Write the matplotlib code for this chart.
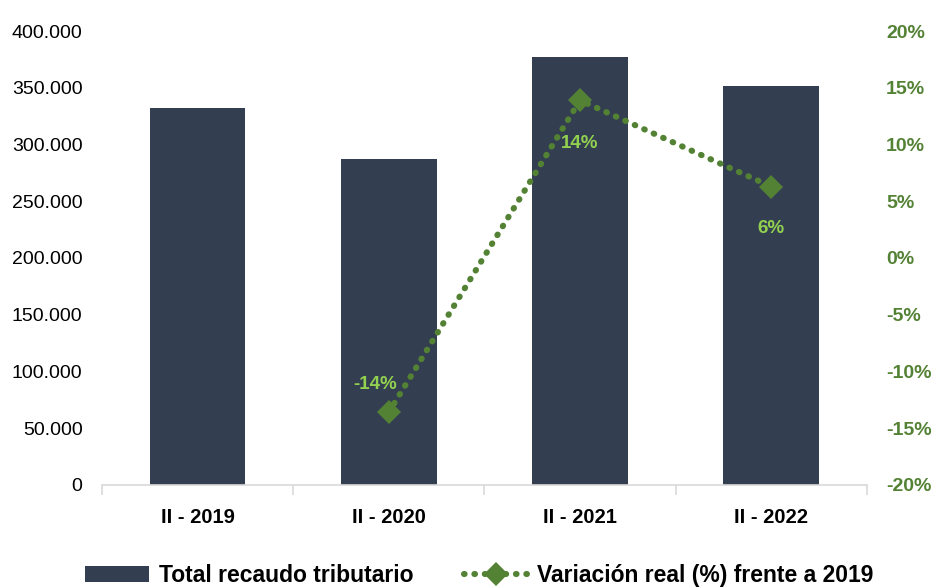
import matplotlib.pyplot as plt
import numpy as np
from matplotlib.ticker import FuncFormatter

plt.rcParams['font.family'] = ['Liberation Sans', 'DejaVu Sans']

# data
periodos = ['II - 2019', 'II - 2020', 'II - 2021', 'II - 2022']
recaudo = [332000, 287000, 377000, 352000]          # total recaudo tributario
variacion = [np.nan, -13.6, 13.9, 6.3]               # variacion real (%) frente a 2019
etiquetas = ['', '-14%', '14%', '6%']

col_bar = '#333F50'
col_line = '#548235'
col_lab = '#92D050'

fig = plt.figure(figsize=(9.36, 5.87), dpi=100)
ax = fig.add_axes([0.109, 0.174, 0.817, 0.773])
x = np.arange(len(periodos))

ax.bar(x, recaudo, width=0.5, color=col_bar, label='Total recaudo tributario', zorder=2)
ax.set_xlim(-0.5, 3.5)
ax.set_ylim(0, 400000)
ax.set_yticks(np.arange(0, 400001, 50000))
ax.yaxis.set_major_formatter(FuncFormatter(lambda v, p: '0' if v == 0 else f'{v:,.0f}'.replace(',', '.')))
ax.set_xticks(x)
ax.set_xticklabels(periodos, fontsize=14.5, fontweight='bold')
ax.set_xticks(np.arange(-0.5, 4, 1), minor=True)
ax.tick_params(axis='x', which='major', length=0, pad=17)
ax.tick_params(axis='x', which='minor', length=7, color='#D9D9D9', width=1.2)
ax.tick_params(axis='y', length=0, labelsize=14, pad=14)
for s in ['top', 'right', 'left']:
    ax.spines[s].set_visible(False)
ax.spines['bottom'].set_color('#D9D9D9')
ax.spines['bottom'].set_linewidth(1.2)

ax2 = ax.twinx()
ln, = ax2.plot(x, variacion, color=col_line, linestyle=(0, (0.1, 1.6)), linewidth=4.4,
               dash_capstyle='round', marker='D', markersize=12, markeredgewidth=0,
               label='Variación real (%) frente a 2019', zorder=3)
ax2.set_ylim(-20, 20)
ax2.set_yticks(np.arange(-20, 21, 5))
ax2.yaxis.set_major_formatter(FuncFormatter(lambda v, p: f'{v:.0f}%'))
ax2.tick_params(axis='y', length=0, labelsize=14, labelcolor=col_line, pad=14)
for lab in ax2.get_yticklabels():
    lab.set_fontweight('bold')
for s in ['top', 'right', 'left', 'bottom']:
    ax2.spines[s].set_visible(False)

offs = [(0, 0), (-10, 20), (0, -31), (0, -30)]
for i in range(1, len(periodos)):
    ax2.annotate(etiquetas[i], (x[i], variacion[i]), xytext=offs[i], textcoords='offset points',
                 ha='center', va='center', fontsize=13.5, fontweight='bold', color=col_lab)

h1, l1 = ax.get_legend_handles_labels()
h2, l2 = ax2.get_legend_handles_labels()
fig.legend(h1 + h2, l1 + l2, loc='lower center', bbox_to_anchor=(0.512, -0.035), ncol=2,
           frameon=False, prop={'size': 16.5, 'weight': 'bold'}, handlelength=2.8,
           columnspacing=2.2, handletextpad=0.4)

fig.savefig('out.png', dpi=100)
